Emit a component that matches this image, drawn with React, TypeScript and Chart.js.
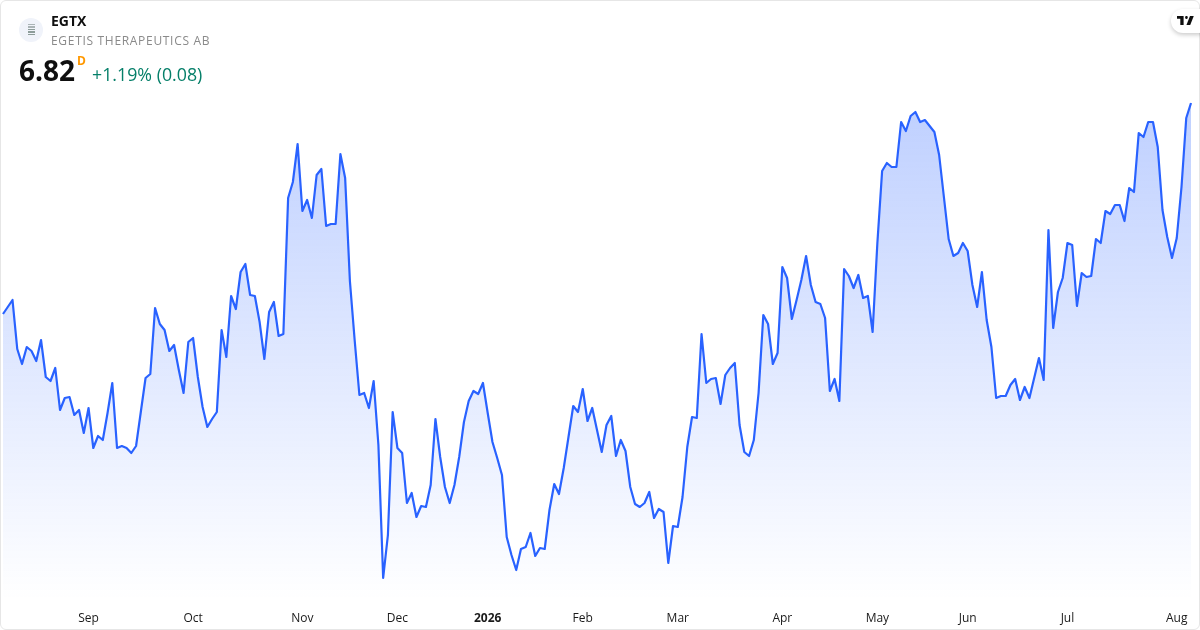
import React, { useEffect, useRef } from "react";
import { Chart, registerables } from "chart.js";

Chart.register(...registerables);

const closes = [
  5.765, 5.8, 5.835, 5.59, 5.515, 5.6, 5.58, 5.53, 5.635, 5.45,
  5.43, 5.495, 5.285, 5.345, 5.35, 5.26, 5.285, 5.17, 5.295, 5.095,
  5.155, 5.135, 5.27, 5.42, 5.095, 5.105, 5.095, 5.07, 5.105, 5.275,
  5.445, 5.465, 5.795, 5.715, 5.685, 5.58, 5.61, 5.485, 5.37, 5.625,
  5.645, 5.45, 5.3, 5.2, 5.24, 5.275, 5.685, 5.55, 5.855, 5.79,
  5.975, 6.015, 5.86, 5.855, 5.725, 5.54, 5.775, 5.825, 5.655, 5.665,
  6.345, 6.425, 6.615, 6.28, 6.335, 6.245, 6.46, 6.49, 6.205, 6.215,
  6.215, 6.565, 6.445, 5.93, 5.635, 5.36, 5.37, 5.295, 5.43, 5.11,
  4.445, 4.66, 5.275, 5.095, 5.07, 4.82, 4.87, 4.75, 4.805, 4.8,
  4.91, 5.24, 5.05, 4.9, 4.82, 4.91, 5.05, 5.225, 5.33, 5.38,
  5.365, 5.42, 5.27, 5.125, 5.045, 4.96, 4.65, 4.56, 4.485, 4.59,
  4.6, 4.67, 4.555, 4.595, 4.59, 4.785, 4.915, 4.865, 4.995, 5.15,
  5.305, 5.275, 5.39, 5.23, 5.295, 5.185, 5.075, 5.21, 5.255, 5.055,
  5.135, 5.08, 4.9, 4.815, 4.8, 4.82, 4.875, 4.745, 4.79, 4.775,
  4.52, 4.705, 4.7, 4.85, 5.1, 5.25, 5.245, 5.665, 5.42, 5.44,
  5.445, 5.315, 5.46, 5.495, 5.52, 5.21, 5.075, 5.055, 5.135, 5.37,
  5.76, 5.715, 5.515, 5.57, 6.0, 5.945, 5.74, 5.835, 5.935, 6.055,
  5.91, 5.825, 5.815, 5.745, 5.38, 5.44, 5.33, 5.99, 5.955, 5.895,
  5.96, 5.845, 5.855, 5.675, 6.12, 6.48, 6.52, 6.5, 6.5, 6.725,
  6.68, 6.755, 6.775, 6.725, 6.735, 6.705, 6.675, 6.56, 6.35, 6.14,
  6.055, 6.07, 6.12, 6.08, 5.91, 5.8, 5.975, 5.735, 5.6, 5.345,
  5.355, 5.355, 5.41, 5.44, 5.335, 5.4, 5.345, 5.445, 5.545, 5.435,
  6.185, 5.695, 5.875, 5.945, 6.12, 6.11, 5.805, 5.97, 5.95, 5.955,
  6.14, 6.12, 6.28, 6.265, 6.31, 6.31, 6.23, 6.395, 6.375, 6.67,
  6.65, 6.725, 6.725, 6.6, 6.285, 6.15, 6.045, 6.145, 6.4, 6.745,
  6.82,
];

const tickIndexes = [18, 40, 63, 83, 102, 122, 142, 164, 184, 203, 224, 247];
const tickLabels = ["Sep", "Oct", "Nov", "Dec", "2026", "Feb", "Mar", "Apr", "May", "Jun", "Jul", "Aug"];

const symbol = "EGTX";
const company = "EGETIS THERAPEUTICS AB";
const lastPrice = "6.82";
const interval = "D";
const change = "+1.19% (0.08)";

const FONT = '"Open Sans", sans-serif';

export default function App() {
  const ref = useRef<HTMLCanvasElement | null>(null);

  useEffect(() => {
    if (!ref.current) return;
    const categories = closes.map((_, i) => {
      const at = tickIndexes.indexOf(i);
      return at >= 0 ? tickLabels[at] : "";
    });
    const chart = new Chart(ref.current, {
      type: "line",
      data: {
        labels: categories,
        datasets: [
          {
            data: closes,
            borderColor: "#2962ff",
            borderWidth: 2.2,
            pointRadius: 0,
            tension: 0,
            borderJoinStyle: "round",
            fill: "start",
            backgroundColor: (ctx: any) => {
              const g = ctx.chart.ctx.createLinearGradient(0, 100, 0, 600);
              g.addColorStop(0, "rgba(41,98,255,0.3)");
              g.addColorStop(1, "rgba(41,98,255,0)");
              return g;
            },
          },
        ],
      },
      options: {
        responsive: false,
        animation: false,
        layout: { padding: { left: 3, right: 9, top: 0, bottom: 0 } },
        plugins: { legend: { display: false }, tooltip: { enabled: false } },
        scales: {
          y: { display: false, min: 4.335, max: 7.335 },
          x: {
            afterFit: (scale: any) => {
              scale.height = 30;
            },
            grid: { display: false },
            border: { display: false },
            ticks: {
              autoSkip: false,
              maxRotation: 0,
              minRotation: 0,
              padding: 3,
              color: "#1a1a1a",
              font: (ctx: any) => ({
                family: FONT,
                size: 12,
                weight: ctx.tick && ctx.tick.label === "2026" ? "bold" : "normal",
              }),
              callback: (_v: any, i: number) => categories[i] || null,
            },
          },
        },
      },
    });
    return () => chart.destroy();
  }, []);

  return (
    <div style={{ position: "fixed", left: 0, top: 0, width: 1200, height: 630, background: "#fff", overflow: "hidden", fontFamily: FONT }}>
      <canvas ref={ref} width={1200} height={630} style={{ position: "absolute", left: 0, top: 0, display: "block" }} />
      <div style={{ position: "absolute", inset: 0, boxSizing: "border-box", border: "1px solid #e6e6e6", borderRadius: 6, pointerEvents: "none" }} />
      <div style={{ position: "absolute", left: 19, top: 18, width: 24, height: 24, borderRadius: 12, background: "#f0f3fa" }}>
        {[0, 1, 2, 3, 4].map((i) => (
          <div key={i} style={{ position: "absolute", left: 9, top: 5.5 + i * 2.6, width: 6.5, height: 1.5, background: i < 2 ? "#aab4b6" : "#8d9d9a" }} />
        ))}
      </div>
      <div style={{ position: "absolute", left: 51, top: 12, fontSize: 14, lineHeight: "18px", fontWeight: 700, color: "#0f0f0f" }}>{symbol}</div>
      <div style={{ position: "absolute", left: 51, top: 32, fontSize: 12, lineHeight: "18px", letterSpacing: 0.69, color: "#8a8a8a", whiteSpace: "nowrap" }}>{company}</div>
      <div style={{ position: "absolute", left: 19, top: 51, fontSize: 28, lineHeight: "38px", fontWeight: 700, color: "#0f0f0f" }}>{lastPrice}</div>
      <div style={{ position: "absolute", left: 77, top: 53, fontSize: 12, lineHeight: "16px", fontWeight: 700, color: "#ff9800" }}>{interval}</div>
      <div style={{ position: "absolute", left: 92, top: 61, fontSize: 17.8, lineHeight: "26px", color: "#057f69", whiteSpace: "nowrap" }}>{change}</div>
      <div style={{ position: "absolute", left: 1171, top: 9, width: 40, height: 24, borderRadius: 12, background: "#fff", boxShadow: "0 2px 4px rgba(0,0,0,0.2)" }}>
        <svg width="17" height="9" viewBox="0 6 36 16" preserveAspectRatio="none" style={{ position: "absolute", left: 6, top: 7 }}>
          <path d="M14 6H0v5h7v11h7V6z" fill="#0f0f0f" />
          <circle cx="20" cy="8.5" r="2.7" fill="#0f0f0f" />
          <path d="M28 22h-8l7.5-16h8L28 22z" fill="#0f0f0f" />
        </svg>
      </div>
    </div>
  );
}
